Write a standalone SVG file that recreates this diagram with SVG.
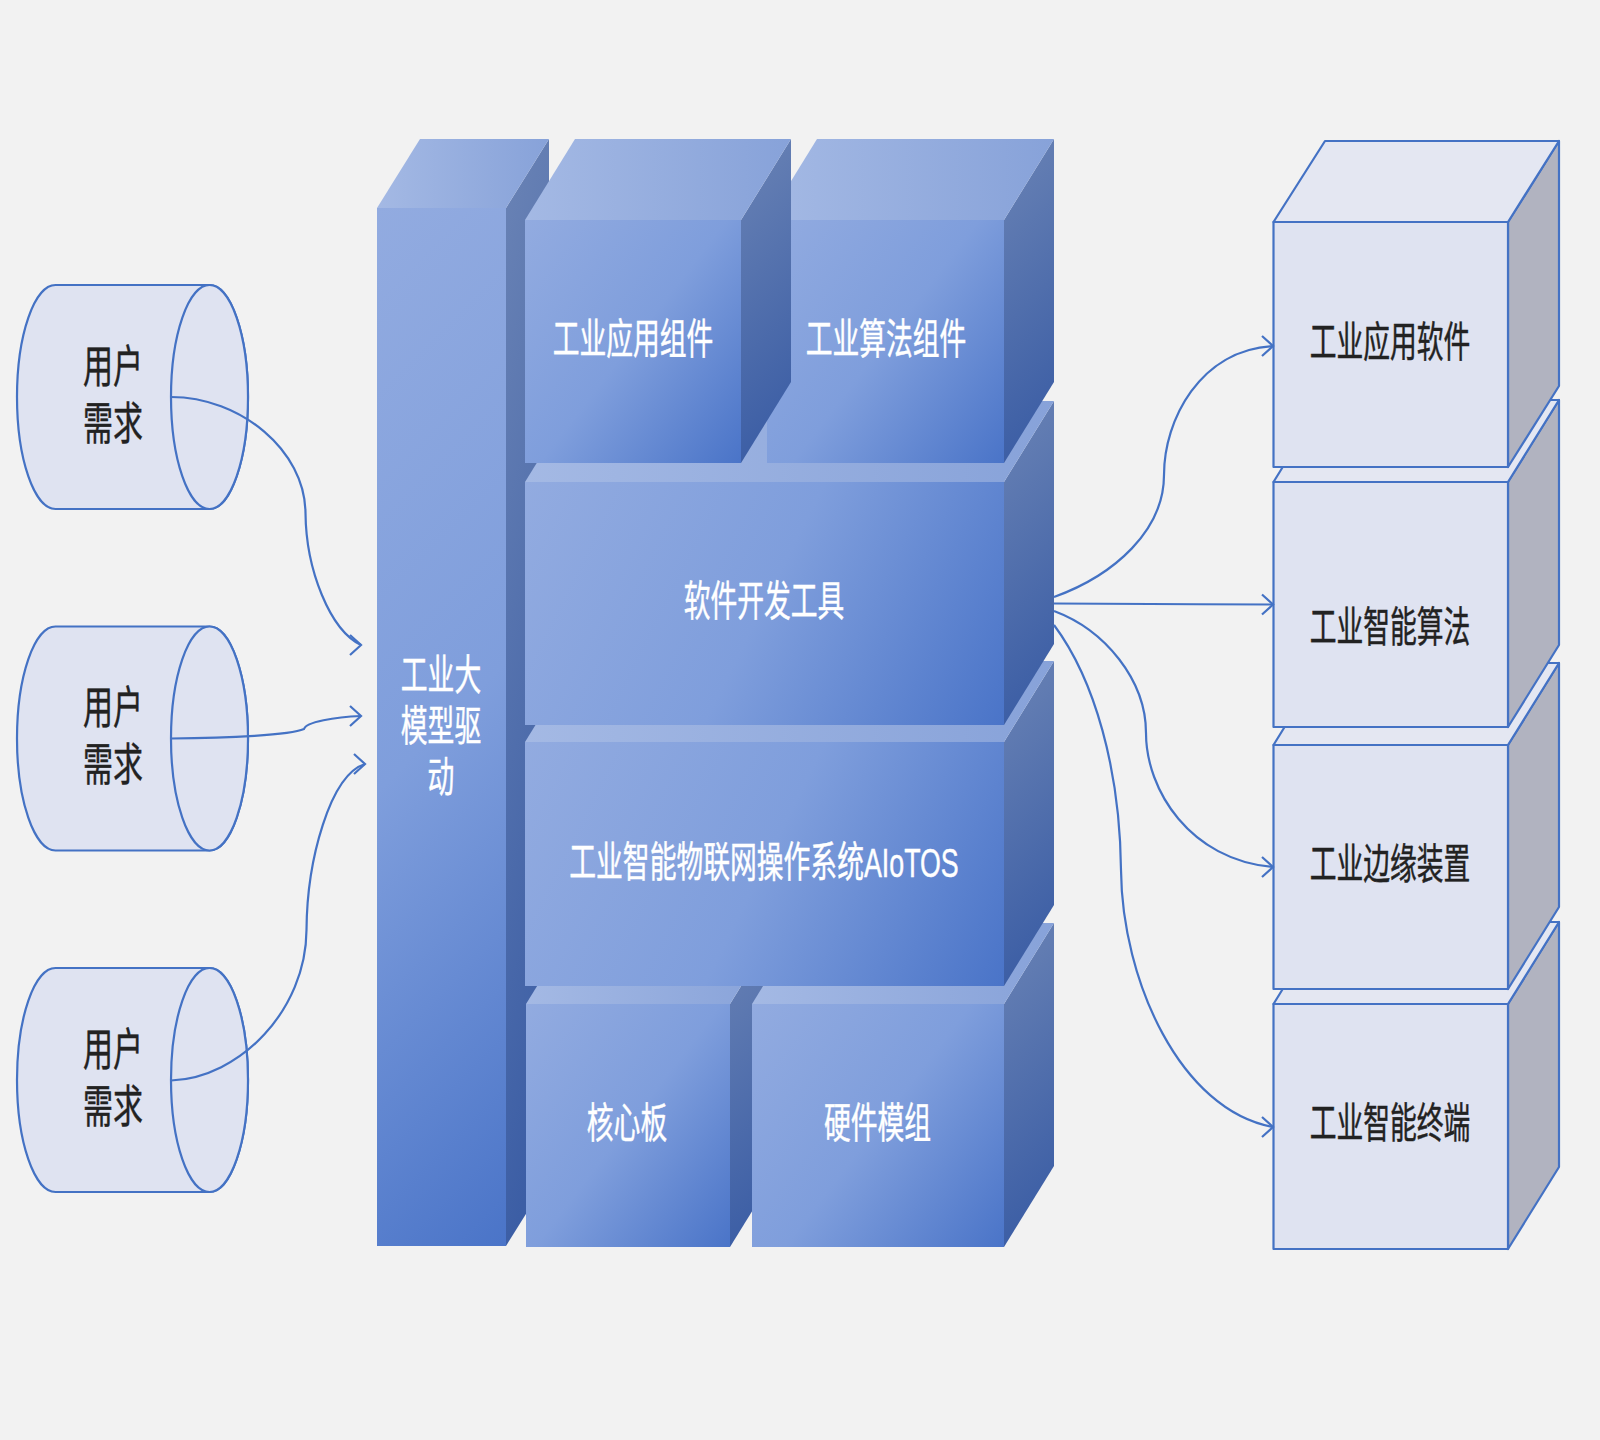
<svg xmlns="http://www.w3.org/2000/svg" width="1600" height="1440" viewBox="0 0 1600 1440">
<style>
text{font-family:"Liberation Sans","Noto Sans CJK SC",sans-serif;text-anchor:middle}
.w{fill:#fff;stroke:#fff;stroke-width:.3px;font-size:26.8px}
.d{fill:#222;stroke:#222;stroke-width:.3px;font-size:26.8px}
.c{fill:#222;stroke:#222;stroke-width:.3px;font-size:30px}
.t{fill:url(#gt)}.s{fill:url(#gs)}
.rf{fill:#DFE3F1;stroke:#4472C4;stroke-width:2.200;stroke-linejoin:round}
.rt{fill:#E4E7F2;stroke:#4472C4;stroke-width:2.200;stroke-linejoin:round}
.rs{fill:#B1B3C0;stroke:#4472C4;stroke-width:2.200;stroke-linejoin:round}
.cy{fill:#DFE3F1;stroke:#4472C4;stroke-width:2.200}
.l{fill:none;stroke:#4472C4;stroke-width:2.200;marker-end:url(#a)}
</style>
<defs>
<linearGradient id="gf"><stop offset="0" stop-color="#92ABE0"/><stop offset=".5" stop-color="#7F9EDC"/><stop offset="1" stop-color="#4A74C8"/></linearGradient>
<linearGradient id="f1" href="#gf" gradientUnits="userSpaceOnUse" x1="149" y1="435" x2="734" y2="1020"/>
<linearGradient id="f2" href="#gf" gradientUnits="userSpaceOnUse" x1="526" y1="1004" x2="771.500" y2="1193"/>
<linearGradient id="f3" href="#gf" gradientUnits="userSpaceOnUse" x1="752" y1="1004" x2="1027.800" y2="1216"/>
<linearGradient id="f4" href="#gf" gradientUnits="userSpaceOnUse" x1="525" y1="742" x2="1005.400" y2="982"/>
<linearGradient id="f5" href="#gf" gradientUnits="userSpaceOnUse" x1="525" y1="482" x2="1005.400" y2="722"/>
<linearGradient id="f6" href="#gf" gradientUnits="userSpaceOnUse" x1="767" y1="220" x2="1033" y2="425"/>
<linearGradient id="f7" href="#gf" gradientUnits="userSpaceOnUse" x1="525" y1="220" x2="778" y2="415"/>
<linearGradient id="gt" x1="0" y1="0" x2="1" y2="0"><stop offset="0" stop-color="#A4B9E4"/><stop offset="1" stop-color="#87A2D9"/></linearGradient>
<linearGradient id="gs" x1="0" y1="0" x2=".15" y2="1"><stop offset="0" stop-color="#6A83B5"/><stop offset="1" stop-color="#3C5EA5"/></linearGradient>
<marker id="a" markerUnits="userSpaceOnUse" markerWidth="16" markerHeight="26" refX="13" refY="12" orient="0" overflow="visible"><path d="M2,2 L13,12 L2,22" fill="none" stroke="#4472C4" stroke-width="2.200"/></marker>
</defs>
<rect width="1600" height="1440" fill="#F2F2F2"/>

<g id="cyl1">
<path class="cy" d="M209.500,285 H55.500 A38.500,112 0 0 0 55.500,509 H209.500 A38.500,112 0 0 0 209.500,285 Z"/>
<ellipse class="cy" cx="209.500" cy="397" rx="38.500" ry="112"/>
<text class="c" transform="translate(113,383) scale(1,1.52)">用户</text>
<text class="c" transform="translate(113,440) scale(1,1.52)">需求</text>
</g>
<g id="cyl2">
<path class="cy" d="M209.500,626.500 H55.500 A38.500,112 0 0 0 55.500,850.500 H209.500 A38.500,112 0 0 0 209.500,626.500 Z"/>
<ellipse class="cy" cx="209.500" cy="738.500" rx="38.500" ry="112"/>
<text class="c" transform="translate(113,724) scale(1,1.52)">用户</text>
<text class="c" transform="translate(113,781) scale(1,1.52)">需求</text>
</g>
<g id="cyl3">
<path class="cy" d="M209.500,968 H55.500 A38.500,112 0 0 0 55.500,1192 H209.500 A38.500,112 0 0 0 209.500,968 Z"/>
<ellipse class="cy" cx="209.500" cy="1080" rx="38.500" ry="112"/>
<text class="c" transform="translate(113,1066) scale(1,1.52)">用户</text>
<text class="c" transform="translate(113,1123) scale(1,1.52)">需求</text>
</g>

<g id="pillar">
<polygon class="s" points="506,208 549,139 549,1177 506,1246"/>
<polygon class="t" points="377,208 420,139 549,139 506,208"/>
<rect fill="url(#f1)" x="377" y="208" width="129" height="1038"/>
<text class="w" transform="translate(441,690) scale(1,1.55)">工业大</text>
<text class="w" transform="translate(441,741) scale(1,1.55)">模型驱</text>
<text class="w" transform="translate(441,792) scale(1,1.55)">动</text>
</g>
<g id="core">
<polygon class="s" points="730,1004 780,923 780,1166 730,1247"/>
<polygon class="t" points="526,1004 576,923 780,923 730,1004"/>
<rect fill="url(#f2)" x="526" y="1004" width="204" height="243"/>
<text class="w" transform="translate(627,1138) scale(1,1.55)">核心板</text>
</g>
<g id="hw">
<polygon class="s" points="1004,1004 1054,923 1054,1166 1004,1247"/>
<polygon class="t" points="752,1004 802,923 1054,923 1004,1004"/>
<rect fill="url(#f3)" x="752" y="1004" width="252" height="243"/>
<text class="w" transform="translate(877.500,1138) scale(1,1.55)">硬件模组</text>
</g>
<g id="os">
<polygon class="s" points="1004,742 1054,661 1054,905 1004,986"/>
<polygon class="t" points="525,742 575,661 1054,661 1004,742"/>
<rect fill="url(#f4)" x="525" y="742" width="479" height="244"/>
<text class="w" transform="translate(764,877) scale(1,1.55)">工业智能物联网操作系统AIoTOS</text>
</g>
<g id="tools">
<polygon class="s" points="1004,482 1054,401 1054,644 1004,725"/>
<polygon class="t" points="525,482 575,401 1054,401 1004,482"/>
<rect fill="url(#f5)" x="525" y="482" width="479" height="243"/>
<text class="w" transform="translate(764,616) scale(1,1.55)">软件开发工具</text>
</g>
<g id="algo">
<polygon class="s" points="1004,220 1054,139 1054,382 1004,463"/>
<polygon class="t" points="767,220 817,139 1054,139 1004,220"/>
<rect fill="url(#f6)" x="767" y="220" width="237" height="243"/>
<text class="w" transform="translate(886,354) scale(1,1.55)">工业算法组件</text>
</g>
<g id="app">
<polygon class="s" points="741,220 791,139 791,382 741,463"/>
<polygon class="t" points="525,220 575,139 791,139 741,220"/>
<rect fill="url(#f7)" x="525" y="220" width="216" height="243"/>
<text class="w" transform="translate(633,354) scale(1,1.55)">工业应用组件</text>
</g>

<g id="r4">
<polygon class="rs" points="1508,1004 1559,922 1559,1167 1508,1249"/>
<polygon class="rt" points="1273.500,1004 1324,922 1559,922 1508,1004"/>
<rect class="rf" x="1273.500" y="1004" width="234.500" height="245"/>
<text class="d" transform="translate(1390,1138) scale(1,1.55)">工业智能终端</text>
</g>
<g id="r3">
<polygon class="rs" points="1508,745 1559,663 1559,907 1508,989"/>
<polygon class="rt" points="1273.500,745 1324,663 1559,663 1508,745"/>
<rect class="rf" x="1273.500" y="745" width="234.500" height="244"/>
<text class="d" transform="translate(1390,879) scale(1,1.55)">工业边缘装置</text>
</g>
<g id="r2">
<polygon class="rs" points="1508,482 1559,400 1559,645 1508,727"/>
<polygon class="rt" points="1273.500,482 1324,400 1559,400 1508,482"/>
<rect class="rf" x="1273.500" y="482" width="234.500" height="245"/>
<text class="d" transform="translate(1390,642) scale(1,1.55)">工业智能算法</text>
</g>
<g id="r1">
<polygon class="rs" points="1508,222 1559,141 1559,386 1508,467"/>
<polygon class="rt" points="1273.500,222 1325,141 1559,141 1508,222"/>
<rect class="rf" x="1273.500" y="222" width="234.500" height="245"/>
<text class="d" transform="translate(1390,357) scale(1,1.55)">工业应用软件</text>
</g>

<g id="connectors">
<path class="l" d="M171,397 C240,397 305,450 305.500,513 C306,570 330,630 361,645"/>
<path class="l" d="M171,738.500 C230,738 290,735 304,729 C306,722 335,717 361,716"/>
<path class="l" d="M171,1080.500 C240,1078 306,1010 306.500,930 C307,860 330,775 365,764"/>
<path class="l" d="M1054,597 C1115,575 1164,530 1164,475 C1164,420 1200,350 1273,346"/>
<path class="l" d="M1054,603.500 C1120,603.500 1200,604.500 1273,604.500"/>
<path class="l" d="M1054,611 C1105,630 1146,680 1146,733 C1146,790 1190,860 1273,867"/>
<path class="l" d="M1054,625 C1095,680 1120,770 1121,870 C1122,980 1180,1110 1273,1127"/>
</g>
</svg>
